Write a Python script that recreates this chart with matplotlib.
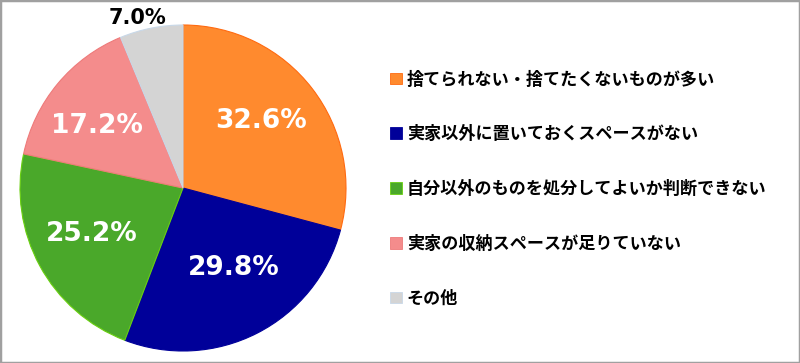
import matplotlib.pyplot as plt
from matplotlib.patches import Patch, Rectangle

plt.rcParams['font.family'] = ['Noto Sans CJK JP', 'DejaVu Sans']

# data
labels = ["捨てられない・捨てたくないものが多い", "実家以外に置いておくスペースがない",
          "自分以外のものを処分してよいか判断できない", "実家の収納スペースが足りていない", "その他"]
values = [32.6, 29.8, 25.2, 17.2, 7.0]
colors = ["#FF8A2E", "#000099", "#4AA82A", "#F48C8C", "#D4D4D4"]
edges = ["#FF6A10", "#000099", "#6AD010", "#EE7A7A", "#C8D8E8"]
# label positions (x, y) in pie radius units
label_pos = [(0.48, 0.41), (0.31, -0.49), (-0.56, -0.28), (-0.53, 0.38), (-0.28, 1.04)]

fig = plt.figure(figsize=(8, 3.63), dpi=100)
ax = fig.add_axes([20 / 800, 12 / 363, 326 / 800, 326 / 363])

wedges, _ = ax.pie(values, colors=colors, startangle=90, counterclock=False,
                   radius=1.0, wedgeprops=dict(linewidth=0.8))
for w, ec in zip(wedges, edges):
    w.set_edgecolor(ec)
ax.set_xlim(-1, 1)
ax.set_ylim(-1, 1)
ax.set_aspect('equal')

for i, v in enumerate(values):
    x, y = label_pos[i]
    if i == 4:
        ax.text(x, y, f"{v:.1f}%", ha='center', va='center', fontsize=15,
                fontweight='bold', color='black', family='DejaVu Sans', clip_on=False)
    else:
        ax.text(x, y, f"{v:.1f}%", ha='center', va='center', fontsize=19,
                fontweight='bold', color='white', family='DejaVu Sans')

handles = [Patch(facecolor=c, edgecolor=e, linewidth=0.6) for c, e in zip(colors, edges)]
leg = fig.legend(handles, labels, loc='center left', bbox_to_anchor=(390 / 800, 174 / 363),
                 frameon=False, fontsize=12.3, handlelength=0.68, handleheight=0.68,
                 handletextpad=0.3, labelspacing=2.15, borderpad=0, borderaxespad=0)
for t in leg.get_texts():
    t.set_fontweight('bold')

fig.patches.append(Rectangle((0, 0), 1, 1, transform=fig.transFigure, fill=False,
                             edgecolor="#A0A0A0", linewidth=2.5))

fig.savefig("out.png", dpi=100)
